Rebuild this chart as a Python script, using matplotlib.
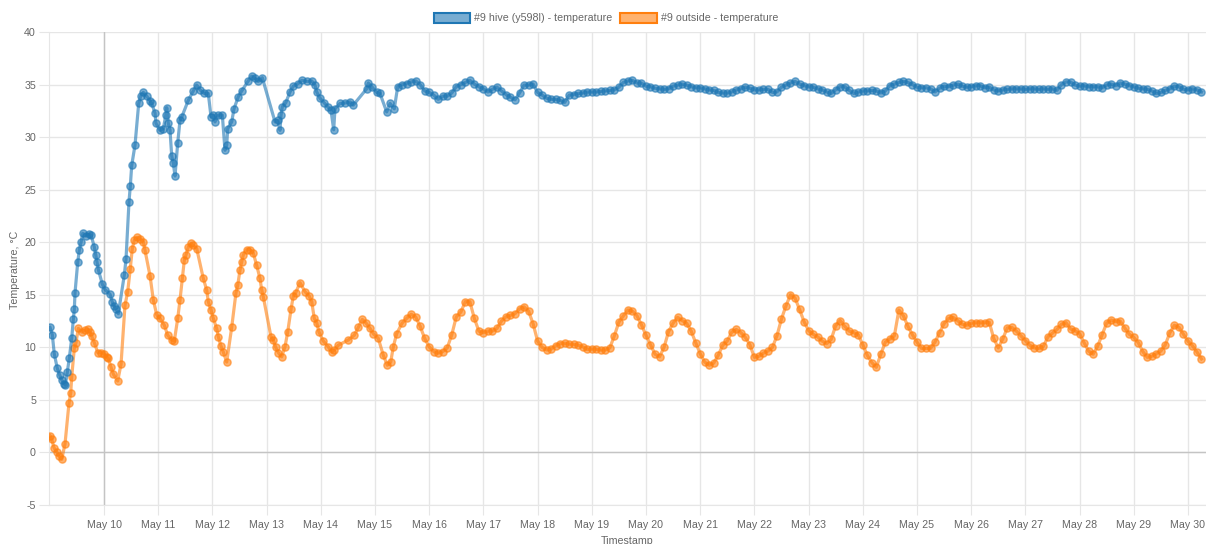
import numpy as np
import pandas as pd
import matplotlib
matplotlib.use('Agg')
import matplotlib.pyplot as plt
import matplotlib.dates as mdates
from matplotlib.patches import Patch
from matplotlib.colors import to_rgba

plt.rcParams['font.family'] = ['Liberation Sans', 'DejaVu Sans']
plt.rcParams['axes.unicode_minus'] = False

# series names / colours
hive_label = '#9 hive (y598l) - temperature'
outside_label = '#9 outside - temperature'
hive_color = '#1f77b4'
outside_color = '#ff7f0e'

# first days: irregular readings, time given as day of May (fractional)
hive_early_day = [9.004, 9.046, 9.083, 9.138, 9.183, 9.220, 9.262, 9.286, 9.323, 9.360,
                  9.404, 9.434, 9.452, 9.465, 9.515, 9.544, 9.576, 9.607, 9.662, 9.729,
                  9.760, 9.821, 9.847, 9.871, 9.895, 9.969, 10.018, 10.111, 10.153, 10.190,
                  10.227, 10.264, 10.375, 10.406, 10.461, 10.485, 10.511, 10.572, 10.640, 10.677,
                  10.725, 10.788, 10.849, 10.880, 10.941, 10.959, 11.033, 11.094, 11.140, 11.157,
                  11.186, 11.218, 11.249, 11.279, 11.310, 11.360, 11.402, 11.434, 11.555, 11.648,
                  11.710, 11.771, 11.851, 11.924, 11.974, 12.017, 12.048, 12.109, 12.183, 12.232,
                  12.264, 12.282, 12.356, 12.399, 12.478, 12.541, 12.662, 12.725, 12.786, 12.847,
                  12.921, 13.155, 13.205, 13.247, 13.266, 13.290, 13.352, 13.432, 13.493, 13.585,
                  13.648, 13.740, 13.832, 13.893, 13.924, 13.985, 14.065, 14.127, 14.188, 14.238,
                  14.262, 14.354, 14.447, 14.539, 14.600, 14.847, 14.876, 14.939, 15.031, 15.092,
                  15.216, 15.277, 15.356, 15.419]
hive_early_temp = [11.9, 11.2, 9.35, 8.0, 7.35, 6.9, 6.55, 6.4, 7.65, 9.0,
                   10.85, 12.7, 13.6, 15.2, 18.1, 19.25, 20.0, 20.85, 20.6, 20.75,
                   20.7, 19.55, 18.8, 18.1, 17.4, 16.0, 15.5, 15.05, 14.3, 13.9,
                   13.6, 13.2, 16.9, 18.4, 23.85, 25.35, 27.3, 29.25, 33.2, 33.9,
                   34.25, 33.9, 33.45, 33.2, 32.3, 31.3, 30.65, 30.8, 32.1, 32.8,
                   31.3, 30.65, 28.2, 27.5, 26.3, 29.45, 31.6, 31.9, 33.5, 34.4,
                   34.95, 34.5, 34.15, 34.15, 31.95, 32.1, 31.45, 32.1, 32.1, 28.75,
                   29.25, 30.8, 31.45, 32.7, 33.85, 34.4, 35.35, 35.8, 35.6, 35.3,
                   35.65, 31.45, 31.6, 30.65, 32.1, 32.9, 33.25, 34.3, 34.85, 35.1,
                   35.4, 35.3, 35.35, 34.95, 34.3, 33.7, 33.25, 32.9, 32.55, 30.7,
                   32.7, 33.2, 33.25, 33.35, 33.05, 34.6, 35.15, 34.8, 34.25, 34.15,
                   32.4, 33.2, 32.7, 34.8]

outside_early_day = [9.004, 9.035, 9.077, 9.127, 9.170, 9.220, 9.280, 9.354, 9.386, 9.404,
                     9.452, 9.483, 9.526, 9.589, 9.649, 9.699, 9.742, 9.773, 9.821, 9.884,
                     9.945, 10.006, 10.050, 10.079, 10.129, 10.172, 10.253, 10.314, 10.387, 10.437,
                     10.485, 10.522, 10.559, 10.603, 10.664, 10.725, 10.756, 10.849, 10.910, 10.972,
                     11.033, 11.113, 11.175, 11.249, 11.297, 11.360, 11.402, 11.445, 11.482, 11.513,
                     11.555, 11.605, 11.648, 11.710, 11.832, 11.895, 11.924, 11.974, 12.017, 12.079,
                     12.109, 12.159, 12.201, 12.264, 12.356, 12.435, 12.467, 12.509, 12.541, 12.570,
                     12.633, 12.694, 12.755, 12.817, 12.878, 12.910, 12.939, 13.081, 13.124, 13.168,
                     13.216, 13.279, 13.339, 13.389, 13.450, 13.493, 13.537, 13.616, 13.708, 13.782,
                     13.832, 13.880, 13.924, 13.967, 14.046, 14.138, 14.201, 14.249, 14.323, 14.507,
                     14.618, 14.692, 14.766, 14.829, 14.908, 14.969, 15.061, 15.153, 15.227, 15.290,
                     15.338, 15.400]
outside_early_temp = [1.6, 1.25, 0.45, 0.05, -0.35, -0.65, 0.8, 4.7, 5.7, 7.2,
                      9.9, 10.45, 11.8, 11.45, 11.65, 11.7, 11.45, 11.05, 10.45, 9.5,
                      9.5, 9.4, 9.05, 8.95, 8.1, 7.45, 6.8, 8.4, 14.0, 15.3,
                      17.5, 19.4, 20.2, 20.45, 20.35, 20.05, 19.25, 16.8, 14.5, 13.1,
                      12.75, 12.1, 11.15, 10.7, 10.6, 12.75, 14.5, 16.55, 18.3, 18.8,
                      19.55, 19.9, 19.7, 19.4, 16.55, 15.45, 14.35, 13.55, 12.75, 11.8,
                      11.0, 10.1, 9.55, 8.6, 11.9, 15.2, 15.9, 17.35, 18.15, 18.8,
                      19.3, 19.3, 18.95, 17.8, 16.55, 15.45, 14.8, 11.0, 10.7, 10.0,
                      9.5, 9.1, 10.05, 11.45, 13.6, 14.9, 15.2, 16.15, 15.3, 14.9,
                      14.35, 12.75, 12.35, 11.45, 10.6, 10.05, 9.55, 9.75, 10.2, 10.7,
                      11.15, 11.9, 12.65, 12.35, 11.8, 11.3, 10.85, 9.25, 8.3, 8.6,
                      10.05, 11.3]

# from May 15 12:00 on: one reading every 2 hours
late_start = '2019-05-15 12:00'
hive_late_temp = [35.0, 35.1, 35.25, 35.35, 35.0, 34.4, 34.25, 34.0, 33.6, 33.9,
                  33.9, 34.2, 34.8, 35.0, 35.2, 35.4, 35.05, 34.8, 34.6, 34.3,
                  34.55, 34.75, 34.4, 34.05, 33.8, 33.55, 34.2, 34.95, 34.95, 35.05,
                  34.25, 34.0, 33.7, 33.6, 33.6, 33.5, 33.3, 34.0, 34.05, 34.15,
                  34.2, 34.3, 34.3, 34.3, 34.35, 34.4, 34.45, 34.5, 34.75, 35.2,
                  35.35, 35.4, 35.15, 35.15, 34.85, 34.8, 34.65, 34.6, 34.55, 34.6,
                  34.85, 34.95, 35.05, 34.95, 34.8, 34.7, 34.7, 34.6, 34.5, 34.45,
                  34.25, 34.2, 34.2, 34.3, 34.5, 34.6, 34.75, 34.65, 34.5, 34.5,
                  34.55, 34.55, 34.25, 34.3, 34.75, 34.95, 35.15, 35.3, 35.05, 34.9,
                  34.8, 34.75, 34.6, 34.5, 34.3, 34.15, 34.5, 34.8, 34.8, 34.45,
                  34.15, 34.3, 34.4, 34.4, 34.45, 34.4, 34.2, 34.4, 34.9, 35.05,
                  35.2, 35.3, 35.2, 35.0, 34.75, 34.7, 34.7, 34.6, 34.3, 34.65,
                  34.85, 34.8, 34.95, 35.05, 34.85, 34.75, 34.8, 34.9, 34.9, 34.7,
                  34.75, 34.5, 34.4, 34.5, 34.55, 34.6, 34.6, 34.6, 34.55, 34.6,
                  34.6, 34.55, 34.6, 34.55, 34.6, 34.45, 35.0, 35.25, 35.25, 34.95,
                  34.85, 34.9, 34.8, 34.8, 34.8, 34.7, 34.95, 35.05, 34.9, 35.15,
                  35.05, 34.9, 34.8, 34.65, 34.6, 34.55, 34.4, 34.15, 34.25, 34.45,
                  34.6, 34.85, 34.8, 34.55, 34.5, 34.6, 34.5, 34.3]
outside_late_temp = [12.3, 12.75, 13.15, 12.9, 12.0, 10.85, 10.05, 9.6, 9.45, 9.6,
                     9.95, 11.2, 12.9, 13.35, 14.35, 14.35, 12.75, 11.55, 11.4, 11.55,
                     11.55, 11.8, 12.5, 12.9, 13.05, 13.2, 13.65, 13.85, 13.45, 12.25,
                     10.6, 10.0, 9.75, 9.85, 10.15, 10.35, 10.4, 10.3, 10.3, 10.2,
                     10.05, 9.8, 9.85, 9.8, 9.75, 9.75, 9.95, 11.1, 12.4, 13.0,
                     13.55, 13.45, 13.0, 12.15, 11.15, 10.25, 9.35, 9.1, 10.0, 11.5,
                     12.3, 12.85, 12.55, 12.3, 11.55, 10.45, 9.4, 8.6, 8.3, 8.5,
                     9.25, 10.2, 10.6, 11.45, 11.7, 11.4, 10.95, 10.25, 9.05, 9.15,
                     9.45, 9.65, 10.0, 11.1, 12.7, 13.95, 15.0, 14.7, 13.6, 12.45,
                     11.6, 11.25, 11.0, 10.6, 10.35, 10.75, 12.05, 12.55, 12.0, 11.55,
                     11.4, 11.2, 10.25, 9.25, 8.55, 8.1, 9.35, 10.5, 10.8, 11.1,
                     13.55, 13.0, 12.0, 11.2, 10.5, 9.9, 9.9, 9.9, 10.5, 11.4,
                     12.25, 12.75, 12.85, 12.55, 12.2, 12.1, 12.3, 12.35, 12.35, 12.35,
                     12.4, 10.85, 9.95, 10.8, 11.85, 11.9, 11.55, 11.1, 10.65, 10.2,
                     9.95, 9.9, 10.1, 11.0, 11.35, 11.7, 12.2, 12.35, 11.75, 11.6,
                     11.3, 10.45, 9.65, 9.35, 10.1, 11.2, 12.3, 12.6, 12.45, 12.5,
                     11.85, 11.25, 10.95, 10.45, 9.6, 9.05, 9.15, 9.4, 9.65, 10.25,
                     11.4, 12.1, 11.9, 11.25, 10.6, 10.15, 9.55, 8.9]


def build_series(early_day, early_temp, late_temp):
    base = pd.Timestamp('2019-05-01')
    t_early = base + pd.to_timedelta(np.array(early_day) - 1, unit='D')
    t_late = pd.date_range(late_start, periods=len(late_temp), freq='2h')
    t = t_early.append(t_late)
    return pd.Series(list(early_temp) + list(late_temp), index=t)


hive = build_series(hive_early_day, hive_early_temp, hive_late_temp)
outside = build_series(outside_early_day, outside_early_temp, outside_late_temp)

W, H = 1206, 544
fs = 7.7
fig = plt.figure(figsize=(W / 100, H / 100), dpi=100)
ax = fig.add_axes([48.5 / W, 1 - 505 / H, (W - 48.5) / W, (505 - 32) / H])

ax.plot(outside.index, outside.values, color=outside_color, lw=2.3, alpha=0.6,
        marker='o', ms=5.2, mec=outside_color, mfc=outside_color, zorder=3)
ax.plot(hive.index, hive.values, color=hive_color, lw=2.3, alpha=0.6,
        marker='o', ms=5.2, mec=hive_color, mfc=hive_color, zorder=4)

ax.set_ylim(-5, 40)
ax.set_yticks(np.arange(-5, 41, 5))
ax.set_xlim(pd.Timestamp('2019-05-08 23:25'), pd.Timestamp('2019-05-30 08:00'))
ax.xaxis.set_major_locator(mdates.DayLocator(bymonthday=range(10, 31)))
ax.xaxis.set_major_formatter(mdates.DateFormatter('%b %d'))

grid_c = '#e6e6e6'
ax.grid(True, color=grid_c, lw=1, zorder=0)
ax.set_axisbelow(True)
ax.axhline(0, color='#c4c4c4', lw=1, zorder=1)
ax.axvline(pd.Timestamp('2019-05-10'), color='#c4c4c4', lw=1, zorder=1)
for s in ['top', 'right']:
    ax.spines[s].set_visible(False)
for s in ['left', 'bottom']:
    ax.spines[s].set_color(grid_c)
ax.tick_params(axis='both', length=7, color=grid_c, labelcolor='#666666', labelsize=fs)
ax.tick_params(axis='x', pad=4)
ax.tick_params(axis='y', pad=2)

fig.text(14.5 / W, 1 - 270 / H, 'Temperature, °C', rotation=90, ha='center', va='center',
         fontsize=fs, color='#666666')
fig.text(627 / W, 1 - 541 / H, 'Timestamp', ha='center', va='center',
         fontsize=fs, color='#666666')

handles = [Patch(facecolor=to_rgba(hive_color, 0.6), edgecolor=hive_color, lw=1.5),
           Patch(facecolor=to_rgba(outside_color, 0.6), edgecolor=outside_color, lw=1.5)]
leg = fig.legend(handles, [hive_label, outside_label], loc='center',
                 bbox_to_anchor=(606 / W, 1 - 18 / H), ncol=2, frameon=False,
                 fontsize=fs, handlelength=3.4, handleheight=1.1,
                 handletextpad=0.4, columnspacing=0.75)
for txt in leg.get_texts():
    txt.set_color('#666666')

fig.savefig('out.png', dpi=100)
